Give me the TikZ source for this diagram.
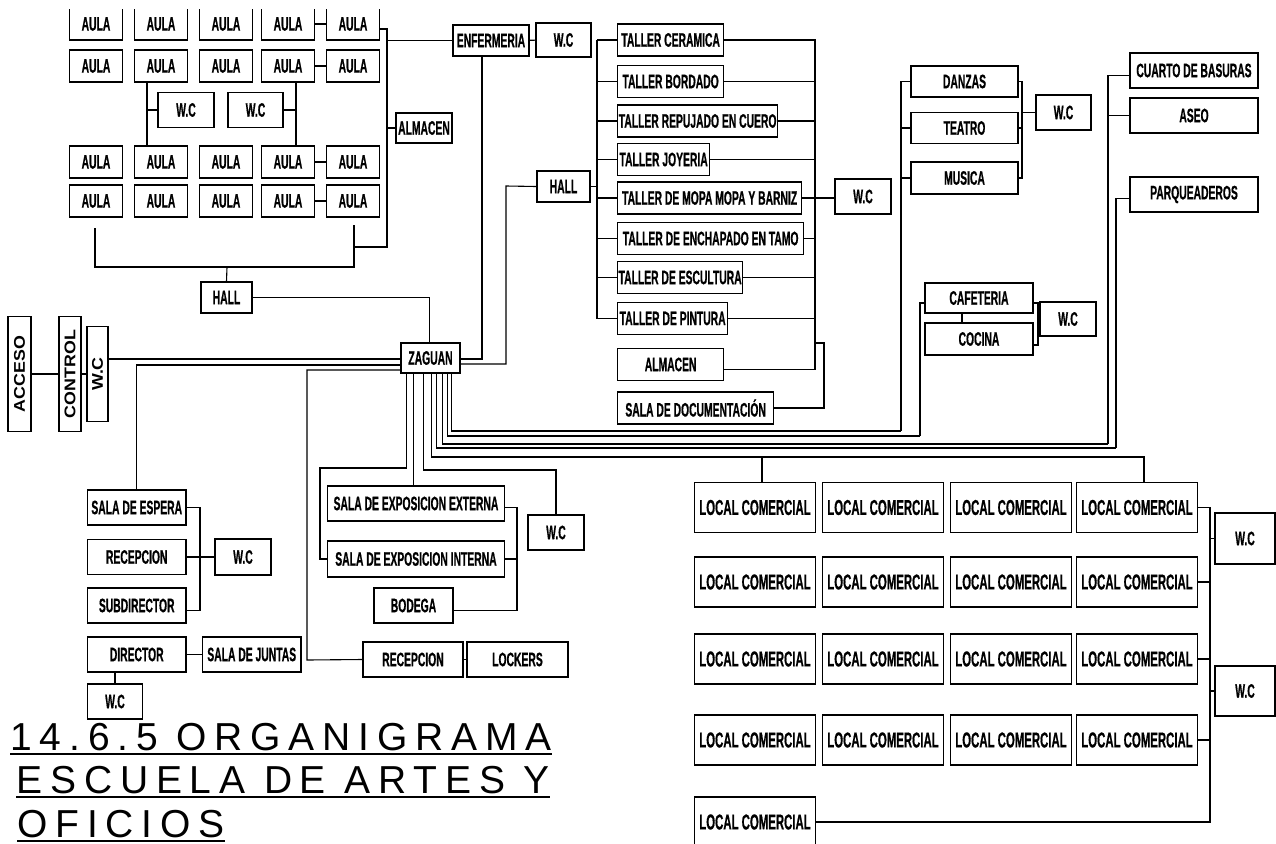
\documentclass[tikz,border=0pt]{standalone}
\usepackage{fontspec}
\newfontfamily\boxfont[FakeStretch=0.53,FakeBold=0.6]{Liberation Sans}
\newfontfamily\widefont[FakeStretch=1.15]{Liberation Sans}
\newfontfamily\titlefont[LetterSpace=20]{Liberation Sans}
\usetikzlibrary{positioning,calc}

\begin{document}
\begin{tikzpicture}[x=1pt,y=-1pt,line width=1.1pt,
 b/.style={draw,line width=1.3pt,inner sep=0pt,align=center,font=\boxfont\bfseries\fontsize{19.5}{21}\selectfont},
 au/.style={b,minimum width=53,minimum height=32},
 w/.style={b,minimum width=55,minimum height=35},
 t/.style={b,anchor=west,minimum height=32},
 lc/.style={b,minimum width=121,minimum height=50,font=\boxfont\bfseries\fontsize{21.5}{23}\selectfont},
 v/.style={b,rotate=90,font=\widefont\bfseries\fontsize{15.5}{17}\selectfont},
 ttl/.style={anchor=base west,inner sep=0pt,font=\titlefont\fontsize{39}{44}\selectfont}]
 \useasboundingbox (0,0) rectangle (1276,843);
 \clip (0,10) rectangle (1276,843);
 \foreach \c/\x in {1/96,2/161,3/226,4/288,5/353}
  \foreach \r/\y in {1/24,2/66,3/162,4/201}
   \node[au] (a\r\c) at (\x,\y) {AULA};
 \foreach \r in {1,...,4} \draw (a\r4) -- (a\r5);
 \node[w,minimum width=56] (wc1) at (186,110) {W.C};
 \node[w] (wc2) at (255.5,110) {W.C};
 \coordinate (v1) at ([xshift=-14]a22.south); \coordinate (v2) at ([xshift=8]a24.south);
 \draw (v1) -- (v1 |- a32.north); \draw (wc1.west) -- (wc1.west -| v1);
 \draw (v2) -- (v2 |- a34.north); \draw (wc2.east) -- (wc2.east -| v2);
 \node[b,minimum width=76,minimum height=31] (enf) at (491,40.5) {ENFERMERIA};
 \node[w,minimum height=34] (wce) at (563.5,40) {W.C};
 \node[b,minimum width=56,minimum height=30] (alm1) at (424,128) {ALMACEN};
 \node[b,minimum width=51,minimum height=31] (hall1) at (226.5,297.5) {HALL};
 \coordinate (jA) at (387,247); \coordinate (bl) at (95,228); \coordinate (br) at (354,225); \coordinate (bb) at (227,267);
 \draw ([yshift=-5]a15.east) -| (jA) -- (jA -| br); \draw (enf.west) -- (enf.west -| jA); \draw (alm1.west) -- (alm1.west -| jA);
 \draw (bl) |- (bb) -| (br); \draw (bb) -- (hall1.north); \draw (enf) -- (wce);
 \node[t,minimum width=106] (tcer) at (617,40) {TALLER CERAMICA};
 \node[t,minimum width=106] (tbor) at (617,81.5) {TALLER BORDADO};
 \node[t,minimum width=160] (trep) at (617,121) {TALLER REPUJADO EN CUERO};
 \node[t,minimum width=92] (tjoy) at (617,159.5) {TALLER JOYERIA};
 \node[t,minimum width=184] (tmop) at (617,198) {TALLER DE MOPA MOPA Y BARNIZ};
 \node[t,minimum width=186] (tenc) at (617,238.5) {TALLER DE ENCHAPADO EN TAMO};
 \node[t,minimum width=125] (tesc) at (617,277.5) {TALLER DE ESCULTURA};
 \node[t,minimum width=110] (tpin) at (617,318.5) {TALLER DE PINTURA};
 \node[t,minimum width=106] (talm) at (617,364.5) {ALMACEN};
 \node[t,minimum width=156] (tdoc) at (617,408) {SALA DE DOCUMENTACIÓN};
 \node[b,minimum width=53,minimum height=31] (hall2) at (563.5,186.5) {HALL};
 \node[w,minimum width=56] (wcm) at (863,196.5) {W.C};
 \coordinate (tL) at (597,0); \coordinate (tR) at (815,0); \coordinate (tR2) at (824,343); \coordinate (ta) at ([yshift=-5]talm.east);
 \draw (tcer.west -| tL) -- (tpin.west -| tL);
 \foreach \n in {tcer,tbor,trep,tjoy,tmop,tenc,tesc,tpin} \draw (\n.west) -- (\n.west -| tL);
 \draw (tcer.east) -- (tcer.east -| tR) -- (ta -| tR) -- (ta);
 \foreach \n in {tbor,trep,tjoy,tmop,tenc,tesc,tpin} \draw (\n.east) -- (\n.east -| tR);
 \draw (tR |- tR2) -- (tR2) |- (tdoc.east);
 \draw (hall2.east) -- (hall2.east -| tL); \draw (tmop.east) -- (tmop.east -| wcm.west);
 \node[b,minimum width=107,minimum height=31] (dan) at (964.5,81.5) {DANZAS};
 \node[b,minimum width=107,minimum height=31] (tea) at (964.5,128) {TEATRO};
 \node[b,minimum width=107,minimum height=32] (mus) at (964.5,178) {MUSICA};
 \node[w] (wcd) at (1063.5,112.5) {W.C};
 \coordinate (dL) at (901,431); \coordinate (dR) at (1022,0);
 \draw (dan.west) -| (dL); \draw (tea.west) -- (tea.west -| dL); \draw (mus.west) -- (mus.west -| dL);
 \draw (dan.east) -| (mus.east -| dR) -- (mus.east); \draw (tea.east) -- (tea.east -| dR); \draw (wcd.west) -- (wcd.west -| dR);
 \node[b,minimum width=128,minimum height=35] (cb) at (1194,70.5) {CUARTO DE BASURAS};
 \node[b,minimum width=128,minimum height=35] (aseo) at (1194,115.5) {ASEO};
 \node[b,minimum width=128,minimum height=35] (parq) at (1194,194.5) {PARQUEADEROS};
 \coordinate (cL) at (1108,444); \coordinate (pL) at (1116,448);
 \draw ([yshift=-5]cb.west) -| (cL); \draw (aseo.west) -- (aseo.west -| cL); \draw ([yshift=-4]parq.west) -| (pL);
 \node[b,minimum width=108,minimum height=30] (caf) at (979,298) {CAFETERIA};
 \node[b,minimum width=108,minimum height=32] (coc) at (979,339) {COCINA};
 \node[w,minimum width=56,minimum height=34] (wck) at (1068,319) {W.C};
 \coordinate (kL) at (920,436); \coordinate (kR) at (1038,0); \coordinate (k2) at ([yshift=-6]coc.east);
 \draw ([xshift=-17]caf.south) -- ([xshift=-17]coc.north);
 \draw ([yshift=-5]caf.west) -| (kL);
 \draw ([yshift=-5]caf.east) -| (k2 -| kR) -- (k2); \draw (wck.west) -- (wck.west -| kR);
 \node[b,minimum width=59,minimum height=30] (zag) at (430.5,358) {ZAGUAN};
 \node[v,minimum width=115,minimum height=23] (acc) at (19.5,374) {ACCESO};
 \node[v,minimum width=115,minimum height=22] (con) at (70,374) {CONTROL};
 \node[v,minimum width=95,minimum height=21] (wcv) at (97.5,374) {W.C};
 \draw (acc) -- (con); \draw (con) -- (wcv);
 \node[b,minimum width=98.5,minimum height=35] (esp) at (136.75,507.5) {SALA DE ESPERA};
 \node[b,minimum width=98.5,minimum height=35] (rec1) at (136.75,557) {RECEPCION};
 \node[b,minimum width=98.5,minimum height=35] (sub) at (136.75,605.5) {SUBDIRECTOR};
 \node[b,minimum width=98.5,minimum height=35] (dir) at (136.75,654.5) {DIRECTOR};
 \node[w,minimum width=55.5] (wcdir) at (115,701.5) {W.C};
 \node[b,minimum width=98.5,minimum height=35] (jun) at (251.75,654.5) {SALA DE JUNTAS};
 \node[w,minimum width=56,minimum height=36] (wcr) at (243,557) {W.C};
 \coordinate (rB) at (200,0); \coordinate (s1) at ([yshift=-5]sub.east);
 \draw (esp.east) -| (s1 -| rB) -- (s1); \draw (rec1.east) -- (wcr.west); \draw (dir) -- (jun); \draw (wcdir.north) -- (wcdir.north |- dir.south);
 \node[b,minimum width=177.5,minimum height=35] (ext) at (416,503.5) {SALA DE EXPOSICION EXTERNA};
 \node[b,minimum width=177.5,minimum height=36] (int) at (416,559) {SALA DE EXPOSICION INTERNA};
 \node[b,minimum width=79,minimum height=35] (bod) at (413.5,605.5) {BODEGA};
 \node[w,minimum width=56] (wcx) at (556,532.5) {W.C};
 \node[b,minimum width=100,minimum height=35] (rec2) at (413,659.5) {RECEPCION};
 \node[b,minimum width=101,minimum height=35] (lock) at (517.5,659.5) {LOCKERS};
 \coordinate (eB) at (517,0); \coordinate (s2) at ([yshift=-5]bod.east);
 \draw ([yshift=-4]ext.east) -| (s2 -| eB) -- (s2); \draw (int.east) -- (int.east -| eB); \draw (rec2) -- (lock);
 \coordinate (zR) at (307,660); \coordinate (hJ) at (506,186); \coordinate (z1) at ([yshift=-7]zag.west);
 \draw ([yshift=-1]zag.west) -- ([yshift=-1]zag.west -| wcv.south);
 \draw (z1) -| (esp.north); \draw ([yshift=-12]zag.west) -| (zR) -- (rec2.west);
 \draw ([yshift=-1]zag.east) -| ([xshift=-9]enf.south);
 \draw ([yshift=-6]zag.east) -| (hJ) -- (hall2.west);
 \draw (hall1.east) -| ([xshift=-1]zag.north);
 \foreach \c/\x in {1/755,2/883,3/1011,4/1137}
  \foreach \r/\y in {1/507.5,2/582,3/659,4/740}
   \node[lc] (l\r\c) at (\x,\y) {LOCAL COMERCIAL};
 \node[lc] (l51) at (755,822) {LOCAL COMERCIAL};
 \node[b,minimum width=60,minimum height=51] (wl1) at (1245,538.5) {W.C};
 \node[b,minimum width=60,minimum height=50] (wl2) at (1245,691) {W.C};
 \coordinate (lR) at (1210,0);
 \draw (l14.east) -| (l51.east -| lR) -- (l51.east);
 \foreach \r in {2,3,4} \draw (l\r4.east) -- (l\r4.east -| lR);
 \draw (wl1.west) -- (wl1.west -| lR); \draw (wl2.west) -- (wl2.west -| lR);
 \coordinate (eJ) at (320,468); \coordinate (xJ) at (556,470); \coordinate (lJ) at (0,457);
 \coordinate (z2) at ([xshift=-17]zag.south); \coordinate (l1) at ([xshift=7]l11.north); \coordinate (l4) at ([xshift=7]l14.north);
 \draw ([xshift=-24]zag.south) |- (eJ) |- (int.west);
 \draw (z2) -- (z2 |- ext.north);
 \draw ([xshift=-7]zag.south) |- (xJ) -- (wcx.north);
 \draw ([xshift=1]zag.south) |- (l4 |- lJ) -- (l4); \draw (l1 |- lJ) -- (l1);
 \draw ([xshift=6]zag.south) |- (pL); \draw ([xshift=12]zag.south) |- (cL); \draw ([xshift=17]zag.south) |- (kL); \draw ([xshift=21]zag.south) |- (dL);
 \node[ttl] (t1) at (10,750) {14.6.5 ORGANIGRAMA};
 \node[ttl] (t2) at (16,793) {ESCUELA DE ARTES Y};
 \node[ttl] (t3) at (17,837) {OFICIOS};
 \foreach \n in {t1,t2,t3} \draw[line width=2pt] ([yshift=-3.5]\n.base west) -- ([yshift=-3.5]\n.base east);
\end{tikzpicture}
\end{document}
